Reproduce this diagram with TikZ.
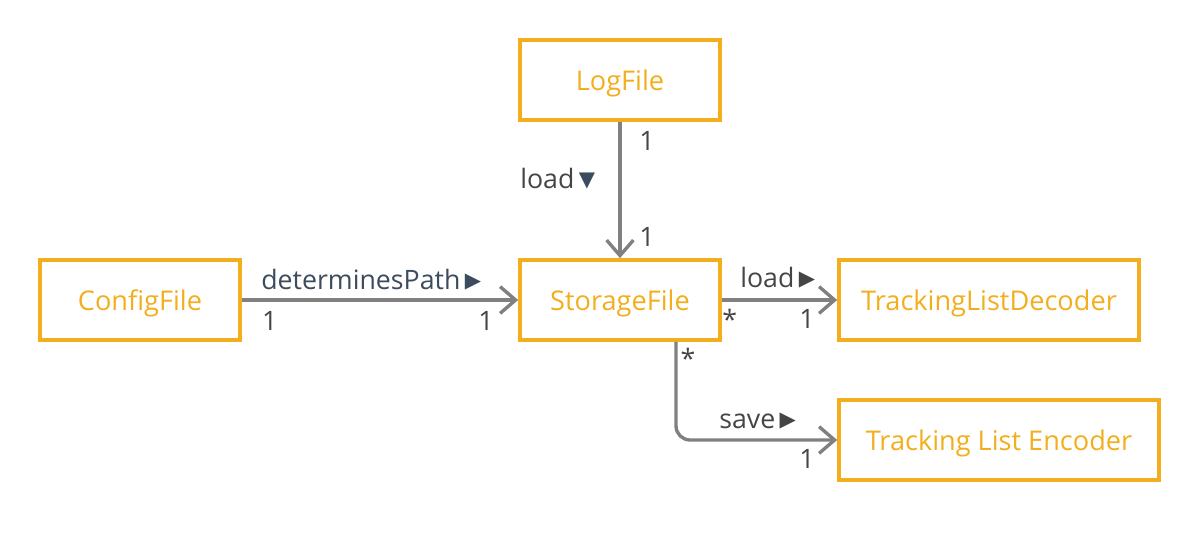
\documentclass[tikz,border=0pt]{standalone}
\usepackage{fontspec}
\setmainfont{Open Sans}
\newfontfamily\symfont{DejaVu Sans}
\usetikzlibrary{calc}
\usetikzlibrary{arrows.meta, positioning}

\definecolor{boxorange}{HTML}{F2AE1C}
\definecolor{edgegray}{HTML}{808080}
\definecolor{slate}{HTML}{3D4B5E}
\definecolor{labelgray}{HTML}{454545}

\newcommand{\rtri}{\raisebox{1pt}{\symfont\fontsize{15}{15}\selectfont\char"25B6}}
\newcommand{\dtri}{\raisebox{1pt}{\symfont\fontsize{15}{15}\selectfont\char"25BC}}

\tikzset{
  classbox/.style={draw=boxorange, line width=2.6pt, text=boxorange,
    minimum height=2cm, inner sep=0pt, text height=15.4pt, text depth=0pt,
    font=\fontsize{19.3}{23}\selectfont},
  assoc/.style={draw=edgegray, line width=2.4pt,
    -{Straight Barb[length=11pt, width=19pt, line width=2.4pt]}},
  mult/.style={text=labelgray, inner sep=0pt, anchor=base west,
    font=\fontsize{19}{23}\selectfont},
  rolelabel/.style={inner sep=0pt, anchor=base west,
    font=\fontsize{19}{23}\selectfont},
}

\begin{document}
\begin{tikzpicture}[x=0.025cm, y=-0.025cm]
    \useasboundingbox (0,0) rectangle (1200,540);

    % -------------------------------------------------------
    % 1. Classes
    % -------------------------------------------------------
    \node[classbox, minimum width=5cm]   (logfile) at (620,80)  {LogFile};
    \node[classbox, minimum width=5cm]   (config)  at (140,300) {ConfigFile};
    \node[classbox, minimum width=5cm]   (storage) at (620,300) {StorageFile};
    \node[classbox, minimum width=7.5cm] (decoder) at (989,300) {TrackingListDecoder};
    \node[classbox, minimum width=8cm]   (encoder) at (999,440) {Tracking List Encoder};

    % -------------------------------------------------------
    % 2. Associations
    % -------------------------------------------------------
    \draw[assoc] (logfile) -- (storage);
    \draw[assoc] (config) -- (storage);
    \draw[assoc] (storage) -- (decoder);
    \coordinate (savestart) at ($(storage.south)+(56,0)$);
    \draw[assoc, rounded corners=10pt] (savestart) |- (encoder.west);

    % -------------------------------------------------------
    % 3. Association names
    % -------------------------------------------------------
    \node[rolelabel, text=labelgray] (loadup) at (520,188) {load\,{\color{slate}\dtri}};
    \node[rolelabel, text=slate] (detpath) at (261,289) {determinesPath\,\rtri};
    \node[rolelabel, text=labelgray] (loadright) at (740,287) {load\,\rtri};
    \node[rolelabel, text=labelgray] (savelabel) at (719,428) {save\,\rtri};

    % -------------------------------------------------------
    % 4. Multiplicities
    % -------------------------------------------------------
    \node[mult] (m1) at ($(logfile.south)+(19,29)$) {1};
    \node[mult] (m2) at ($(storage.north)+(19,-12)$) {1};
    \node[mult] (m3) at ($(config.east)+(20,30)$) {1};
    \node[mult] (m4) at ($(storage.west)+(-40,30)$) {1};
    \node[mult, anchor=center] (m5) at ($(storage.east)+(8,19)$) {*};
    \node[mult] (m6) at ($(decoder.west)+(-38,28)$) {1};
    \node[mult, anchor=center] (m7) at ($(savestart)+(12,17)$) {*};
    \node[mult] (m8) at ($(encoder.west)+(-38,28)$) {1};
\end{tikzpicture}
\end{document}
